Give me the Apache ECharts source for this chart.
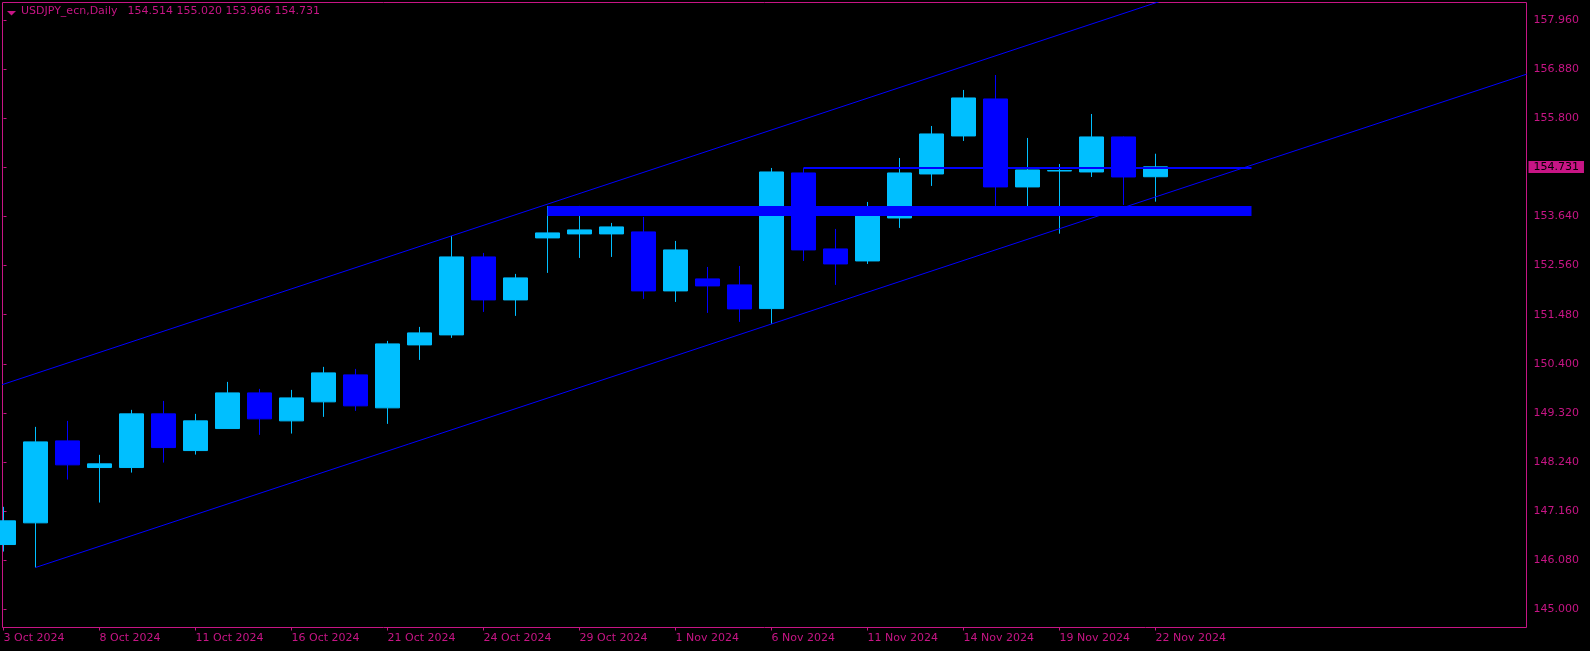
<!DOCTYPE html>
<html><head><meta charset="utf-8">
<script src="https://cdn.jsdelivr.net/npm/echarts@6/dist/echarts.min.js"></script>
<style>html,body{margin:0;padding:0;background:#000;}#c{width:1590px;height:651px;}</style>
</head><body><div id="c"></div>
<script>
// ---- data ----
const dates = ['3 Oct 2024','4 Oct 2024','7 Oct 2024','8 Oct 2024','9 Oct 2024','10 Oct 2024','11 Oct 2024',
  '14 Oct 2024','15 Oct 2024','16 Oct 2024','17 Oct 2024','18 Oct 2024','21 Oct 2024','22 Oct 2024','23 Oct 2024',
  '24 Oct 2024','25 Oct 2024','28 Oct 2024','29 Oct 2024','30 Oct 2024','31 Oct 2024','1 Nov 2024','4 Nov 2024',
  '5 Nov 2024','6 Nov 2024','7 Nov 2024','8 Nov 2024','11 Nov 2024','12 Nov 2024','13 Nov 2024','14 Nov 2024',
  '15 Nov 2024','18 Nov 2024','19 Nov 2024','20 Nov 2024','21 Nov 2024','22 Nov 2024'];
const opens  = [146.428,146.905,148.707,148.121,148.121,149.301,148.494,148.978,149.762,149.147,149.565,150.158,149.433,150.817,151.037,
  152.751,151.806,153.169,153.257,153.257,153.301,152.004,152.268,152.136,151.615,154.597,152.927,152.663,153.608,154.575,155.411,
  156.224,154.290,154.640,154.619,155.389,154.514];
const closes = [146.949,148.685,148.180,148.202,149.301,148.560,149.147,149.762,149.191,149.652,150.202,149.477,150.839,151.081,152.751,
  151.806,152.290,153.279,153.345,153.411,152.004,152.905,152.114,151.608,154.619,152.905,152.597,153.718,154.597,155.455,156.246,
  154.290,154.663,154.650,155.389,154.509,154.731];
const lows   = [146.274,145.923,147.857,147.351,148.010,148.230,148.406,148.970,148.839,148.868,149.235,149.367,149.081,150.487,150.971,
  151.542,151.455,152.400,152.729,152.751,151.828,151.762,151.520,151.323,151.279,152.663,152.136,152.597,153.389,154.312,155.301,
  153.872,153.806,153.263,154.509,153.894,153.966];
const highs  = [147.257,149.015,149.147,148.400,149.389,149.586,149.301,150.004,149.850,149.828,150.334,150.290,150.905,151.213,153.213,
  152.839,152.378,153.872,153.872,153.499,153.630,153.103,152.531,152.553,154.707,154.707,153.367,153.960,154.927,155.630,156.422,
  156.751,155.367,154.795,155.894,155.400,155.020];
const xTickIdx = [0,3,6,9,12,15,18,21,24,27,30,33,36];
const yTicks = [145.000,146.080,147.160,148.240,149.320,150.400,151.480,152.560,153.640,154.720,155.800,156.880,157.960];
const lowerLine = [[1,145.923],[47.6,156.77]];
const upperLine = [[-1,149.72],[44,160.20]];
const band = [[17,39,153.652,153.872]];
const levelLine = [[25,154.707],[39,154.707]];
const lastClose = 154.731;
const symbolName = 'USDJPY_ecn,Daily';
const lastOHLC = ['154.514','155.020','153.966','154.731'];
// ---------------------------------------

const MAG = '#C71585';
const BULL = '#00BFFF';
const BEAR = '#0000FF';
const FONT = 'DejaVu Sans';

const chart = echarts.init(document.getElementById('c'), null, {renderer:'canvas'});
chart.setOption({
  backgroundColor: '#000',
  animation: false,
  grid: {left: 2.5, top: 2.5, width: 1524, height: 625, show: true, borderColor: MAG, borderWidth: 1, backgroundColor: 'transparent'},
  xAxis: {
    type: 'value', min: -0.03125, max: 47.59375,
    axisLine: {show: false}, splitLine: {show: false},
    axisTick: {show: true, customValues: xTickIdx, length: 3, lineStyle: {color: MAG, width: 1}},
    axisLabel: {show: true, customValues: xTickIdx, formatter: v => dates[Math.round(v)] || '', align: 'left',
      color: MAG, fontFamily: FONT, fontSize: 11, margin: 5}
  },
  yAxis: {
    type: 'value', position: 'right', min: 144.6042, max: 158.3447, scale: true,
    axisLine: {show: false}, splitLine: {show: false},
    axisTick: {show: true, customValues: yTicks, length: 3, lineStyle: {color: MAG, width: 1}},
    axisLabel: {show: true, customValues: yTicks, formatter: v => v.toFixed(3),
      color: MAG, fontFamily: FONT, fontSize: 11, margin: 7}
  },
  graphic: [
    {type: 'polygon', shape: {points: [[7, 11], [16, 11], [11.5, 15.5]]}, style: {fill: MAG}},
    {type: 'text', left: 21, top: 6, style: {text: symbolName, fill: MAG, font: '11px "DejaVu Sans"'}},
    {type: 'text', left: 127.5, top: 6, style: {text: lastOHLC.join(' '), fill: MAG, font: '11px "DejaVu Sans"'}}
  ],
  series: [
    {
      type: 'candlestick', z: 2,
      data: dates.map((d, i) => [i, opens[i], closes[i], lows[i], highs[i]]),
      encode: {x: 0, y: [1, 2, 3, 4]},
      barWidth: 24,
      itemStyle: {color: BULL, color0: BEAR, borderColor: BULL, borderColor0: BEAR, borderWidth: 1}
    },
    {
      type: 'custom', z: 3, clip: true,
      data: band, encode: {x: [0, 1], y: [2, 3]},
      renderItem(params, api) {
        const p1 = api.coord([api.value(0), api.value(3)]);
        const p2 = api.coord([api.value(1), api.value(2)]);
        return {type: 'rect', shape: {x: p1[0], y: p1[1], width: p2[0] - p1[0], height: p2[1] - p1[1]}, style: {fill: BEAR}};
      }
    },
    {type: 'line', z: 4, data: lowerLine, symbol: 'none', clip: true, lineStyle: {color: BEAR, width: 1}},
    {type: 'line', z: 4, data: upperLine, symbol: 'none', clip: true, lineStyle: {color: BEAR, width: 1}},
    {type: 'line', z: 4, data: levelLine, symbol: 'none', clip: true, lineStyle: {color: BEAR, width: 2},
      markLine: {
        silent: true, symbol: ['none', 'none'], animation: false, z: 10,
        lineStyle: {width: 0, color: 'rgba(0,0,0,0)'},
        data: [{yAxis: lastClose}],
        label: {show: true, position: 'end', formatter: lastClose.toFixed(3), color: '#000', backgroundColor: MAG,
          padding: [1, 5, 0, 5], fontFamily: FONT, fontSize: 11, distance: 2}
      }
    }
  ]
});
</script></body></html>
